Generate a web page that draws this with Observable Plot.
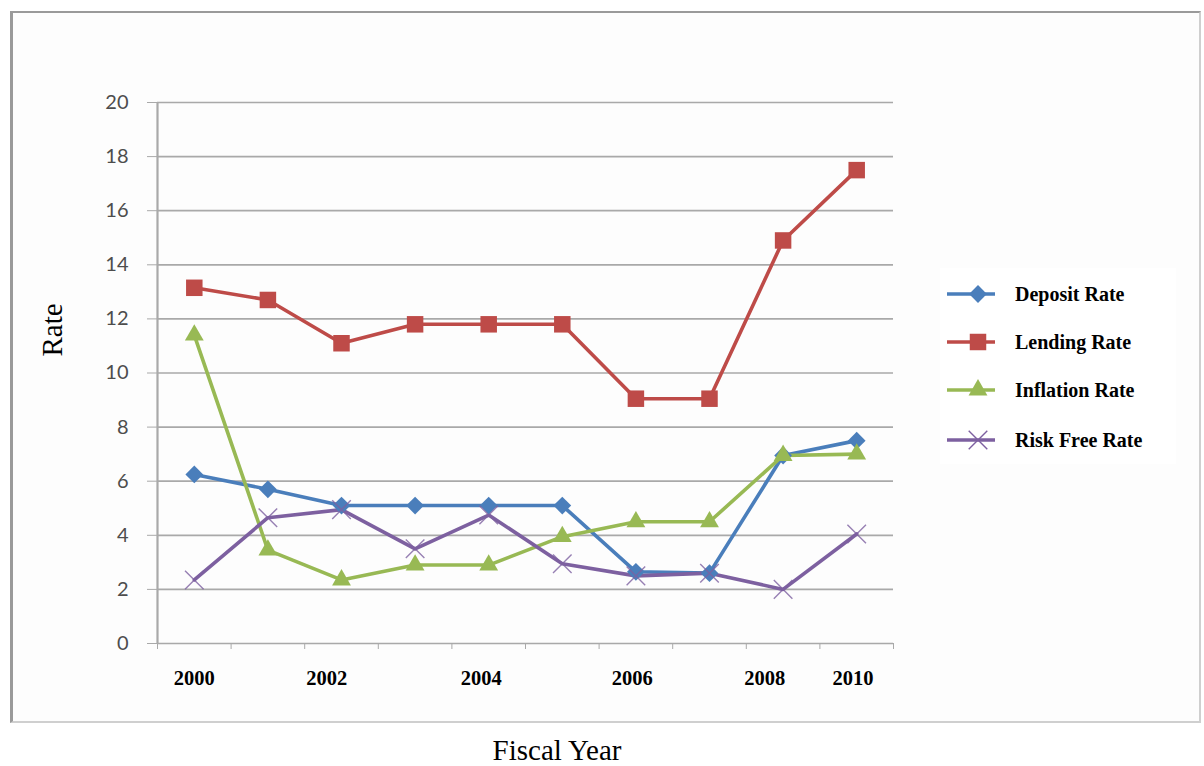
<!DOCTYPE html>
<html><head><meta charset="utf-8">
<script src="https://cdn.jsdelivr.net/npm/d3@7"></script>
<script src="https://cdn.jsdelivr.net/npm/@observablehq/plot@0.6"></script>
<style>
body{margin:0;background:#fff;}
#wrap{position:relative;width:1204px;height:766px;overflow:hidden;}
#frame{position:absolute;left:10px;top:11px;width:1186px;height:708px;border-left:3px solid #9a9a9a;border-top:2px solid #9a9a9a;border-right:2px solid #cfcfcf;border-bottom:2px solid #cfcfcf;background:#fdfdfd;}
#chart{position:absolute;left:0;top:0;}
.ttl{position:absolute;font-family:"Liberation Serif","Times New Roman",serif;font-size:29px;color:#000;white-space:nowrap;line-height:1;}
#ytitle{left:52px;top:330px;transform:translate(-50%,-50%) rotate(-90deg);}
#xtitle{left:557px;top:750px;transform:translate(-50%,-50%);}
#legend{position:absolute;left:940px;top:268px;width:236px;height:196px;background:#fff;}
.li{position:absolute;left:0;height:30px;}
.li svg{position:absolute;left:0;top:0;}
.li span{position:absolute;left:75px;top:50%;transform:translateY(-50%);font-family:"Liberation Serif","Times New Roman",serif;font-weight:bold;font-size:20px;white-space:nowrap;color:#000;}
</style></head><body>
<div id="wrap"><div id="frame"></div><div id="chart"></div>
<div class="ttl" id="ytitle">Rate</div>
<div class="ttl" id="xtitle">Fiscal Year</div>
<div id="legend"></div>
</div>
<script>
// ---- data ----
const pointIdx = [0, 1, 2, 3, 4, 5, 6, 7, 8, 9];
const depositRate   = [6.25, 5.7, 5.1, 5.1, 5.1, 5.1, 2.65, 2.6, 6.95, 7.5];
const lendingRate   = [13.15, 12.7, 11.1, 11.8, 11.8, 11.8, 9.05, 9.05, 14.9, 17.5];
const inflationRate = [11.4, 3.45, 2.35, 2.9, 2.9, 3.95, 4.5, 4.5, 6.95, 7.0];
const riskFreeRate  = [2.35, 4.65, 4.95, 3.5, 4.75, 2.95, 2.5, 2.6, 2.0, 4.05];
const seriesNames = ["Deposit Rate", "Lending Rate", "Inflation Rate", "Risk Free Rate"];
const seriesColors = ["#4a7ebb", "#be4b48", "#98b954", "#7d60a0"];
const seriesSymbols = ["diamond2", "square2", "triangle2", "times"];
const yTicks = [0, 2, 4, 6, 8, 10, 12, 14, 16, 18, 20];
const xLabelText = ["2000", "2002", "2004", "2006", "2008", "2010"];
const xLabelAt = [0, 1.8, 3.9, 5.95, 7.75, 8.95];
const xBounds = [-0.5, 0.5, 1.5, 2.5, 3.5, 4.5, 5.5, 6.5, 7.5, 8.5, 9.5];

const seriesValues = [depositRate, lendingRate, inflationRate, riskFreeRate];
const symR = [8, 10.5, 9, 8.5];

const rows = [];
seriesNames.forEach((name, s) => {
  pointIdx.forEach((p, i) => rows.push({series: name, s, x: p, y: seriesValues[s][i]}));
});
const xLabs = xLabelAt.map((x, i) => ({x, text: xLabelText[i]}));

const marks = [
  Plot.ruleY(yTicks, {stroke: "#a9a9a9", strokeWidth: 1.7}),
  Plot.ruleX([-0.5], {stroke: "#a9a9a9", strokeWidth: 2.2}),
  Plot.axisY(yTicks, {tickSize: 10, tickPadding: 19, stroke: "#a9a9a9", fill: "#4d4d4d",
    fontSize: 20, fontFamily: "Lato, 'Open Sans', sans-serif", label: null}),
  Plot.axisX(xBounds, {tickSize: 6, tickFormat: () => "", stroke: "#a9a9a9", label: null}),
  Plot.text(xLabs, {x: "x", y: () => 0, text: "text", dy: 35, fontSize: 20.5, fontWeight: "bold",
    fontFamily: "'Liberation Serif', 'Times New Roman', serif", fill: "#000"})
];
seriesNames.forEach((name, s) => {
  const data = rows.filter(d => d.s === s);
  marks.push(Plot.line(data, {x: "x", y: "y", stroke: seriesColors[s], strokeWidth: 3.6}));
});
seriesNames.forEach((name, s) => {
  const data = rows.filter(d => d.s === s);
  if (seriesSymbols[s] === "times") {
    marks.push(Plot.dot(data, {x: "x", y: "y", symbol: () => "times", r: symR[s], stroke: seriesColors[s], strokeWidth: 1.4, strokeOpacity: 0.8, fill: "none"}));
  } else {
    marks.push(Plot.dot(data, {x: "x", y: "y", symbol: () => seriesSymbols[s], r: symR[s], fill: seriesColors[s], stroke: "none"}));
  }
});

const chart = Plot.plot({
  width: 1204, height: 766,
  marginLeft: 157, marginRight: 311, marginTop: 102, marginBottom: 123,
  style: {background: "transparent", overflow: "visible"},
  x: {type: "linear", domain: [-0.5, 9.5]},
  y: {domain: [0, 20]},
  symbol: {type: "identity"},
  marks
});
document.getElementById("chart").appendChild(chart);

// ---- legend ----
const leg = document.getElementById("legend");
const rowY = [294, 342, 390, 440];
const symGen = {diamond2: d3.symbolDiamond2, square2: d3.symbolSquare2, triangle2: d3.symbolTriangle2, times: d3.symbolTimes};
seriesNames.forEach((name, s) => {
  const div = document.createElement("div");
  div.className = "li";
  div.style.top = (rowY[s] - 268 - 15) + "px";
  div.style.width = "236px";
  const r = symR[s];
  const path = d3.symbol(symGen[seriesSymbols[s]], r * r * Math.PI)();
  const isTimes = seriesSymbols[s] === "times";
  div.innerHTML = `<svg width="70" height="30"><line x1="7" x2="55" y1="15" y2="15" stroke="${seriesColors[s]}" stroke-width="3.6"/>` +
    `<path transform="translate(38,15)" d="${path}" ${isTimes ? `fill="none" stroke="${seriesColors[s]}" stroke-width="1.4"` : `fill="${seriesColors[s]}"`}/></svg>` +
    `<span>${name}</span>`;
  leg.appendChild(div);
});
</script>
</body></html>
